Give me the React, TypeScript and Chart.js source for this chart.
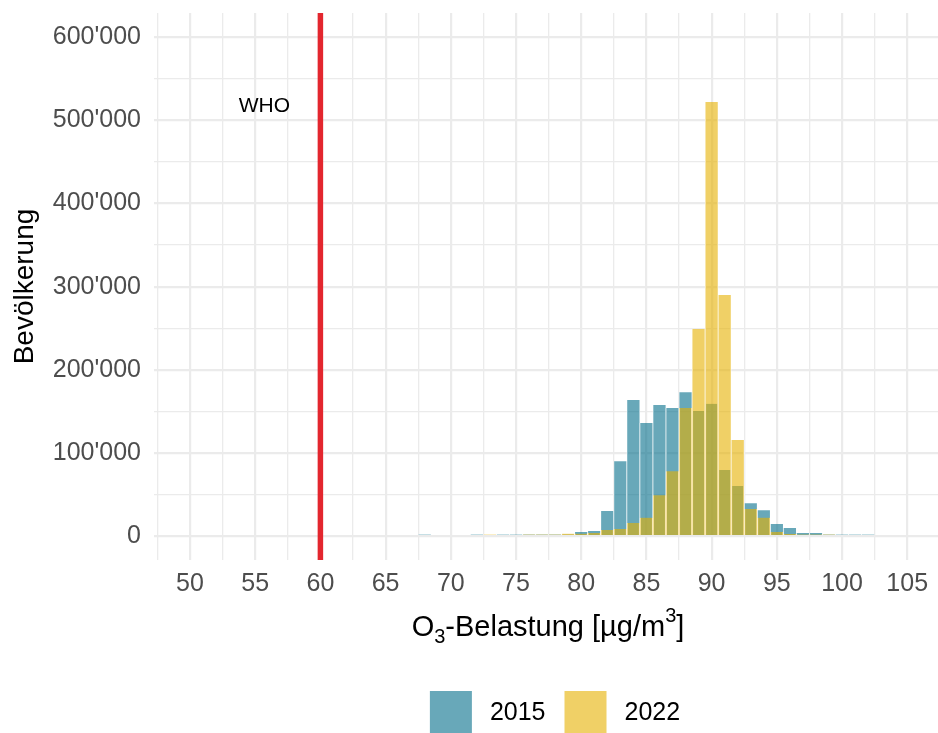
import React, { useEffect, useRef } from "react";
import { Chart, registerables } from "chart.js";

Chart.register(...registerables);

// ---------- data ----------
const BINS = [68, 69, 70, 71, 72, 73, 74, 75, 76, 77, 78, 79, 80, 81, 82, 83, 84, 85, 86, 87, 88, 89, 90, 91, 92, 93, 94, 95, 96, 97, 98, 99, 100, 101, 102];
const POP_2015: (number | null)[] = [1700, null, null, null, 1700, null, 1700, 1700, 1700, 1700, 1700, 1700, 4800, 6000, 30000, 90000, 163500, 136000, 157500, 154000, 173000, 150500, 159000, 79500, 60000, 39500, 31000, 14500, 9600, 3600, 3600, 1700, 1700, 1700, 1700];
const POP_2022: (number | null)[] = [null, null, null, null, null, 1700, null, null, 1700, 1700, 1700, 2800, 2800, 3600, 7200, 8400, 15600, 22000, 49000, 78000, 154000, 249000, 522000, 290000, 115500, 32500, 22000, 4800, 2400, 1700, 1700, 1700, null, null, null];
const SERIES_LABELS = ["2015", "2022"];
const X_TICKS = [47.5, 50, 52.5, 55, 57.5, 60, 62.5, 65, 67.5, 70, 72.5, 75, 77.5, 80, 82.5, 85, 87.5, 90, 92.5, 95, 97.5, 100, 102.5, 105];
const Y_TICKS = [0, 50000, 100000, 150000, 200000, 250000, 300000, 350000, 400000, 450000, 500000, 550000, 600000];
const WHO_LIMIT = 60;
const WHO_LABEL = "WHO";
const WHO_LABEL_POS = [55.7, 517000];
const X_RANGE = [47.24, 107.36];
const Y_RANGE = [-28900, 629200];
const Y_TITLE = "Bevölkerung";

// ---------- style ----------
const FONT = "'Liberation Sans', Arial, sans-serif";
const BLUE = "rgba(3,110,138,0.6)";
const YELLOW = "rgba(230,177,0,0.6)";
const RED = "#E3262E";
const GRID = "#EBEBEB";
const TICK_COLOR = "#4D4D4D";

const fmt = (v: number) => String(v).replace(/\B(?=(\d{3})+(?!\d))/g, "'");

const decorPlugin = {
  id: "decor",
  beforeDatasetsDraw(chart: any) {
    const { ctx, chartArea, scales } = chart;
    const x = scales.x.getPixelForValue(WHO_LIMIT);
    ctx.save();
    ctx.strokeStyle = RED;
    ctx.lineWidth = 5.5;
    ctx.beginPath();
    ctx.moveTo(x, chartArea.top);
    ctx.lineTo(x, chartArea.bottom);
    ctx.stroke();
    ctx.fillStyle = "#000";
    ctx.font = `21px ${FONT}`;
    ctx.textAlign = "center";
    ctx.textBaseline = "middle";
    ctx.fillText(WHO_LABEL, scales.x.getPixelForValue(WHO_LABEL_POS[0]), scales.y.getPixelForValue(WHO_LABEL_POS[1]));
    ctx.restore();
  },
  afterDraw(chart: any) {
    const { ctx, chartArea } = chart;
    const cx = (chartArea.left + chartArea.right) / 2;
    ctx.save();
    // x-axis title with sub/superscript
    const big = `29px ${FONT}`;
    const small = `20px ${FONT}`;
    const parts: { t: string; f: string; dy: number }[] = [
      { t: "O", f: big, dy: 0 },
      { t: "3", f: small, dy: 7 },
      { t: "-Belastung [µg/m", f: big, dy: 0 },
      { t: "3", f: small, dy: -14 },
      { t: "]", f: big, dy: 0 },
    ];
    let total = 0;
    for (const p of parts) {
      ctx.font = p.f;
      total += ctx.measureText(p.t).width;
    }
    let x = cx + 2 - total / 2;
    const base = 636;
    ctx.fillStyle = "#000";
    ctx.textBaseline = "alphabetic";
    ctx.textAlign = "left";
    for (const p of parts) {
      ctx.font = p.f;
      ctx.fillText(p.t, x, base + p.dy);
      x += ctx.measureText(p.t).width;
    }
    // legend
    const key = 42;
    const gapKeyText = 18;
    const gapItems = 19;
    ctx.font = `25px ${FONT}`;
    const colors = [BLUE, YELLOW];
    const widths = SERIES_LABELS.map((l) => ctx.measureText(l).width);
    const legendW = widths.reduce((a, w) => a + key + gapKeyText + w, 0) + gapItems;
    let lx = cx + 9 - legendW / 2;
    const ky = 691;
    SERIES_LABELS.forEach((l, i) => {
      ctx.fillStyle = "#fff";
      ctx.fillRect(lx, ky, key, key);
      ctx.fillStyle = colors[i];
      ctx.fillRect(lx, ky, key, key);
      ctx.fillStyle = "#000";
      ctx.textBaseline = "middle";
      ctx.fillText(l, lx + key + gapKeyText, ky + key / 2 + 1);
      lx += key + gapKeyText + widths[i] + gapItems;
    });
    ctx.restore();
  },
};

export default function App() {
  const ref = useRef<HTMLCanvasElement | null>(null);
  useEffect(() => {
    if (!ref.current) return;
    Chart.defaults.font.family = FONT;
    const chart = new Chart(ref.current, {
      type: "bar",
      data: {
        datasets: [
          {
            label: SERIES_LABELS[0],
            data: BINS.map((b, i) => ({ x: b, y: POP_2015[i] })) as any,
            backgroundColor: BLUE,
            borderColor: "#ffffff",
            borderWidth: { left: 0.7, right: 0.7, top: 0, bottom: 0 } as any,
            barPercentage: 1,
            categoryPercentage: 1,
            grouped: false,
            order: 1,
          },
          {
            label: SERIES_LABELS[1],
            data: BINS.map((b, i) => ({ x: b, y: POP_2022[i] })) as any,
            backgroundColor: YELLOW,
            borderColor: "#ffffff",
            borderWidth: { left: 0.7, right: 0.7, top: 0, bottom: 0 } as any,
            barPercentage: 1,
            categoryPercentage: 1,
            grouped: false,
            order: 0,
          },
        ],
      },
      options: {
        animation: false,
        responsive: true,
        maintainAspectRatio: false,
        layout: { padding: { top: 13, right: 0, bottom: 0, left: 0 } },
        plugins: { legend: { display: false }, tooltip: { enabled: false } },
        scales: {
          x: {
            type: "linear",
            min: X_RANGE[0],
            max: X_RANGE[1],
            offset: false,
            afterBuildTicks: (s: any) => {
              s.ticks = X_TICKS.map((v) => ({ value: v }));
            },
            afterFit: (s: any) => {
              s.height = 173;
              s.paddingLeft = 0;
              s.paddingRight = 0;
            },
            ticks: {
              autoSkip: false,
              maxRotation: 0,
              padding: 9,
              color: TICK_COLOR,
              font: { size: 25, family: FONT },
              callback: (v: any) => (Number(v) % 5 === 0 ? String(v) : ""),
            },
            grid: {
              offset: false,
              drawTicks: false,
              color: GRID,
              lineWidth: (c: any) => (c.tick && c.tick.value % 5 === 0 ? 2.2 : 1.3),
            },
            border: { display: false },
          },
          y: {
            type: "linear",
            min: Y_RANGE[0],
            max: Y_RANGE[1],
            afterBuildTicks: (s: any) => {
              s.ticks = Y_TICKS.map((v) => ({ value: v }));
            },
            afterFit: (s: any) => {
              s.width = 154;
              s.paddingTop = 0;
              s.paddingBottom = 0;
            },
            ticks: {
              autoSkip: false,
              padding: 13,
              color: TICK_COLOR,
              font: { size: 25, family: FONT },
              callback: (v: any) => (Number(v) % 100000 === 0 ? fmt(Number(v)) : ""),
            },
            grid: {
              drawTicks: false,
              color: GRID,
              lineWidth: (c: any) => (c.tick && c.tick.value % 100000 === 0 ? 2.2 : 1.3),
            },
            border: { display: false },
            title: {
              display: true,
              text: Y_TITLE,
              color: "#000",
              font: { size: 28, family: FONT },
              padding: { top: 8, bottom: 0 },
            },
          },
        },
      },
      plugins: [decorPlugin],
    });
    return () => chart.destroy();
  }, []);
  return (
    <div style={{ position: "absolute", left: 0, top: 0, width: 938, height: 733, background: "#fff" }}>
      <canvas ref={ref} />
    </div>
  );
}
